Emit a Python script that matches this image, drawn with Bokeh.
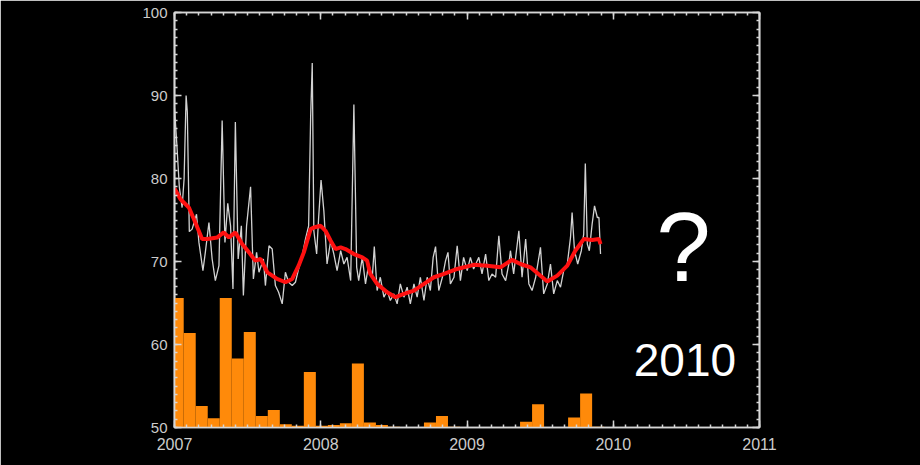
from bokeh.plotting import figure
from bokeh.models import LinearAxis, SingleIntervalTicker, Range1d, Label, ColumnDataSource
from bokeh.embed import file_html
from bokeh.resources import INLINE

# ---- data (days since 2007-01-01) ----
flux_day = [0, 6, 12, 19, 24, 29, 32, 37, 44, 55, 61, 71, 77, 86, 94, 102, 111, 119, 126, 133,
            140, 146, 152, 159, 167, 172, 180, 190, 197, 205, 211, 222, 227, 236, 244, 252, 260,
            269, 277, 285, 294, 302, 310, 319, 327, 335, 340, 344, 348, 355, 360, 366, 373, 381,
            390, 398, 406, 415, 423, 431, 440, 448, 455, 460, 469, 477, 485, 494, 499, 506, 514,
            523, 531, 539, 548, 556, 564, 573, 581, 589, 598, 606, 614, 623, 631, 639, 646, 652,
            660, 669, 677, 683, 689, 698, 706, 714, 722, 731, 739, 747, 760, 768, 777, 785, 793,
            802, 810, 818, 827, 835, 839, 847, 860, 868, 877, 885, 893, 902, 914, 922, 931, 939,
            947, 956, 964, 972, 981, 989, 993, 999, 1007, 1016, 1022, 1026, 1031, 1036, 1043,
            1049, 1056, 1060, 1064]
flux_val = [88.5, 84, 79, 76.5, 80, 90, 88, 73.6, 73.9, 75.7, 72.3, 68.9, 71.1, 74.7, 70.3, 67.7,
            69.5, 87.0, 72.3, 77.0, 74.3, 66.7, 86.8, 70.3, 74.3, 65.9, 74.3, 79.0, 67.9, 71.1,
            68.7, 70.3, 67.1, 71.9, 71.5, 67.1, 66.3, 64.9, 68.7, 67.5, 67.1, 67.5, 69.1, 70.7,
            72.7, 74.3, 87.4, 93.9, 73.7, 70.9, 75.3, 79.8, 76.1, 69.7, 72.5, 70.9, 68.9, 71.3,
            69.7, 70.5, 67.7, 88.9, 69.3, 67.7, 70.5, 67.3, 69.7, 68.1, 71.8, 66.5, 68.1, 65.7,
            66.5, 65.3, 66.1, 64.9, 67.3, 65.7, 66.9, 64.9, 67.3, 65.7, 68.1, 65.3, 68.1, 66.5,
            70.5, 71.8, 66.5, 68.1, 70.1, 71.1, 67.3, 68.1, 71.9, 67.7, 70.5, 68.9, 70.5, 69.1,
            70.5, 68.5, 70.9, 67.7, 68.5, 68.1, 73.1, 68.5, 67.7, 69.7, 71.3, 68.5, 73.7, 68.1,
            72.7, 67.3, 66.5, 68.1, 71.7, 66.1, 67.3, 69.7, 66.1, 67.7, 66.9, 68.9, 69.7, 72.9,
            75.9, 71.3, 69.7, 71.3, 73.3, 81.8, 72.1, 71.3, 74.5, 76.7, 75.3, 75.3, 70.9]

avg_day = [0, 15, 36, 52, 69, 82, 107, 123, 136, 152, 169, 186, 202, 215, 232, 256, 277, 294, 310,
           323, 340, 348, 365, 377, 390, 402, 415, 427, 448, 469, 481, 489, 506, 531, 552, 573,
           598, 623, 648, 673, 706, 747, 781, 814, 843, 864, 889, 931, 956, 981, 1001, 1022,
           1043, 1060, 1064]
avg_val = [78.8, 77.5, 76.5, 74.7, 72.7, 72.7, 72.9, 73.5, 72.9, 73.5, 72.1, 71.1, 70.1, 70.3,
           68.7, 67.9, 67.5, 67.9, 69.5, 71.1, 73.9, 74.1, 74.3, 73.7, 72.5, 71.5, 71.7, 71.5,
           70.9, 70.5, 70.1, 68.5, 67.3, 66.3, 65.7, 66.1, 66.5, 67.3, 68.1, 68.5, 69.1, 69.6,
           69.5, 69.3, 70.2, 69.7, 69.3, 67.6, 68.3, 69.5, 71.3, 72.7, 72.6, 72.7, 72.1]

bin_start_day = [-7, 23, 53, 83, 113, 143, 173, 203, 233, 263, 293, 323, 353, 383, 413, 443,
                 473, 503, 533, 563, 593, 623, 653, 683, 713, 743, 773, 803, 833, 863, 893,
                 923, 953, 983, 1013, 1043]
bin_val = [65.6, 61.4, 52.6, 51.1, 65.6, 58.3, 61.5, 51.4, 52.1, 50.4, 50.2, 56.7, 50.2, 50.3,
           50.5, 57.7, 50.6, 50.3, 50.1, 50.0, 50.0, 50.6, 51.4, 50.1, 50.0, 50.0, 50.0, 50.0,
           50.0, 50.7, 52.8, 50.0, 50.0, 51.2, 54.1, 50.1]
bin_days = 30

x_start, x_end = 2007, 2011
y_start, y_end = 50, 100
x_major = [2007, 2008, 2009, 2010, 2011]
y_major = [50, 60, 70, 80, 90, 100]


def to_year(d):
    return x_start + d / 365.25


flux = ColumnDataSource(dict(x=[to_year(d) for d in flux_day], y=flux_val))
avg = ColumnDataSource(dict(x=[to_year(d) for d in avg_day], y=avg_val))
bins = ColumnDataSource(dict(left=[to_year(d) for d in bin_start_day],
                             right=[to_year(d + bin_days) for d in bin_start_day],
                             top=bin_val))

AXIS_COLOR = "#d6d6d6"
LABEL_COLOR = "#cccccc"
FONT = "Liberation Sans"

p = figure(width=920, height=465, x_range=Range1d(x_start, x_end), y_range=Range1d(y_start, y_end),
           output_backend="svg", toolbar_location=None,
           background_fill_color="black", border_fill_color="black",
           min_border_left=174, min_border_right=161, min_border_top=12, min_border_bottom=38,
           outline_line_color=AXIS_COLOR, outline_line_width=1.7)
p.xgrid.visible = False
p.ygrid.visible = False

p.quad(left="left", right="right", bottom=y_start, top="top", source=bins,
       fill_color="#ff8a0a", line_color=None)
p.line("x", "y", source=flux, line_color="#d2d2d2", line_width=1.3)
p.line("x", "y", source=avg, line_color="#ff1010", line_width=4)


def style(ax):
    ax.axis_line_color = AXIS_COLOR
    ax.axis_line_width = 1.7
    ax.major_tick_line_color = AXIS_COLOR
    ax.minor_tick_line_color = AXIS_COLOR
    ax.major_tick_line_width = 1.5
    ax.minor_tick_line_width = 1.5
    ax.major_tick_in = 7
    ax.major_tick_out = 0
    ax.minor_tick_in = 3
    ax.minor_tick_out = 0
    ax.major_label_text_font = FONT
    ax.major_label_text_color = LABEL_COLOR
    ax.major_label_text_font_size = "15px"


def xt():
    return SingleIntervalTicker(interval=1, num_minor_ticks=12)


def yt():
    return SingleIntervalTicker(interval=10, num_minor_ticks=10)


p.xaxis.ticker = xt()
p.yaxis.ticker = yt()
style(p.xaxis[0])
style(p.yaxis[0])
p.xaxis.major_label_text_font_size = "16px"
p.xaxis.major_label_standoff = 10
p.yaxis.major_label_standoff = 7

top_ax = LinearAxis(ticker=xt())
style(top_ax)
top_ax.major_label_overrides = {v: "" for v in x_major}
top_ax.major_label_standoff = 0
p.add_layout(top_ax, "above")
right_ax = LinearAxis(ticker=yt())
style(right_ax)
right_ax.major_label_overrides = {v: "" for v in y_major}
right_ax.major_label_standoff = 0
p.add_layout(right_ax, "right")

p.add_layout(Label(x=2010.48, y=71.7, text="?", text_color="white", text_align="center",
                   text_baseline="middle", text_font_size="98px", text_font=FONT))
p.add_layout(Label(x=2010.49, y=58.1, text="2010", text_color="white", text_align="center",
                   text_baseline="middle", text_font_size="46px", text_font=FONT))

open("out.html", "w").write(file_html(p, INLINE))
